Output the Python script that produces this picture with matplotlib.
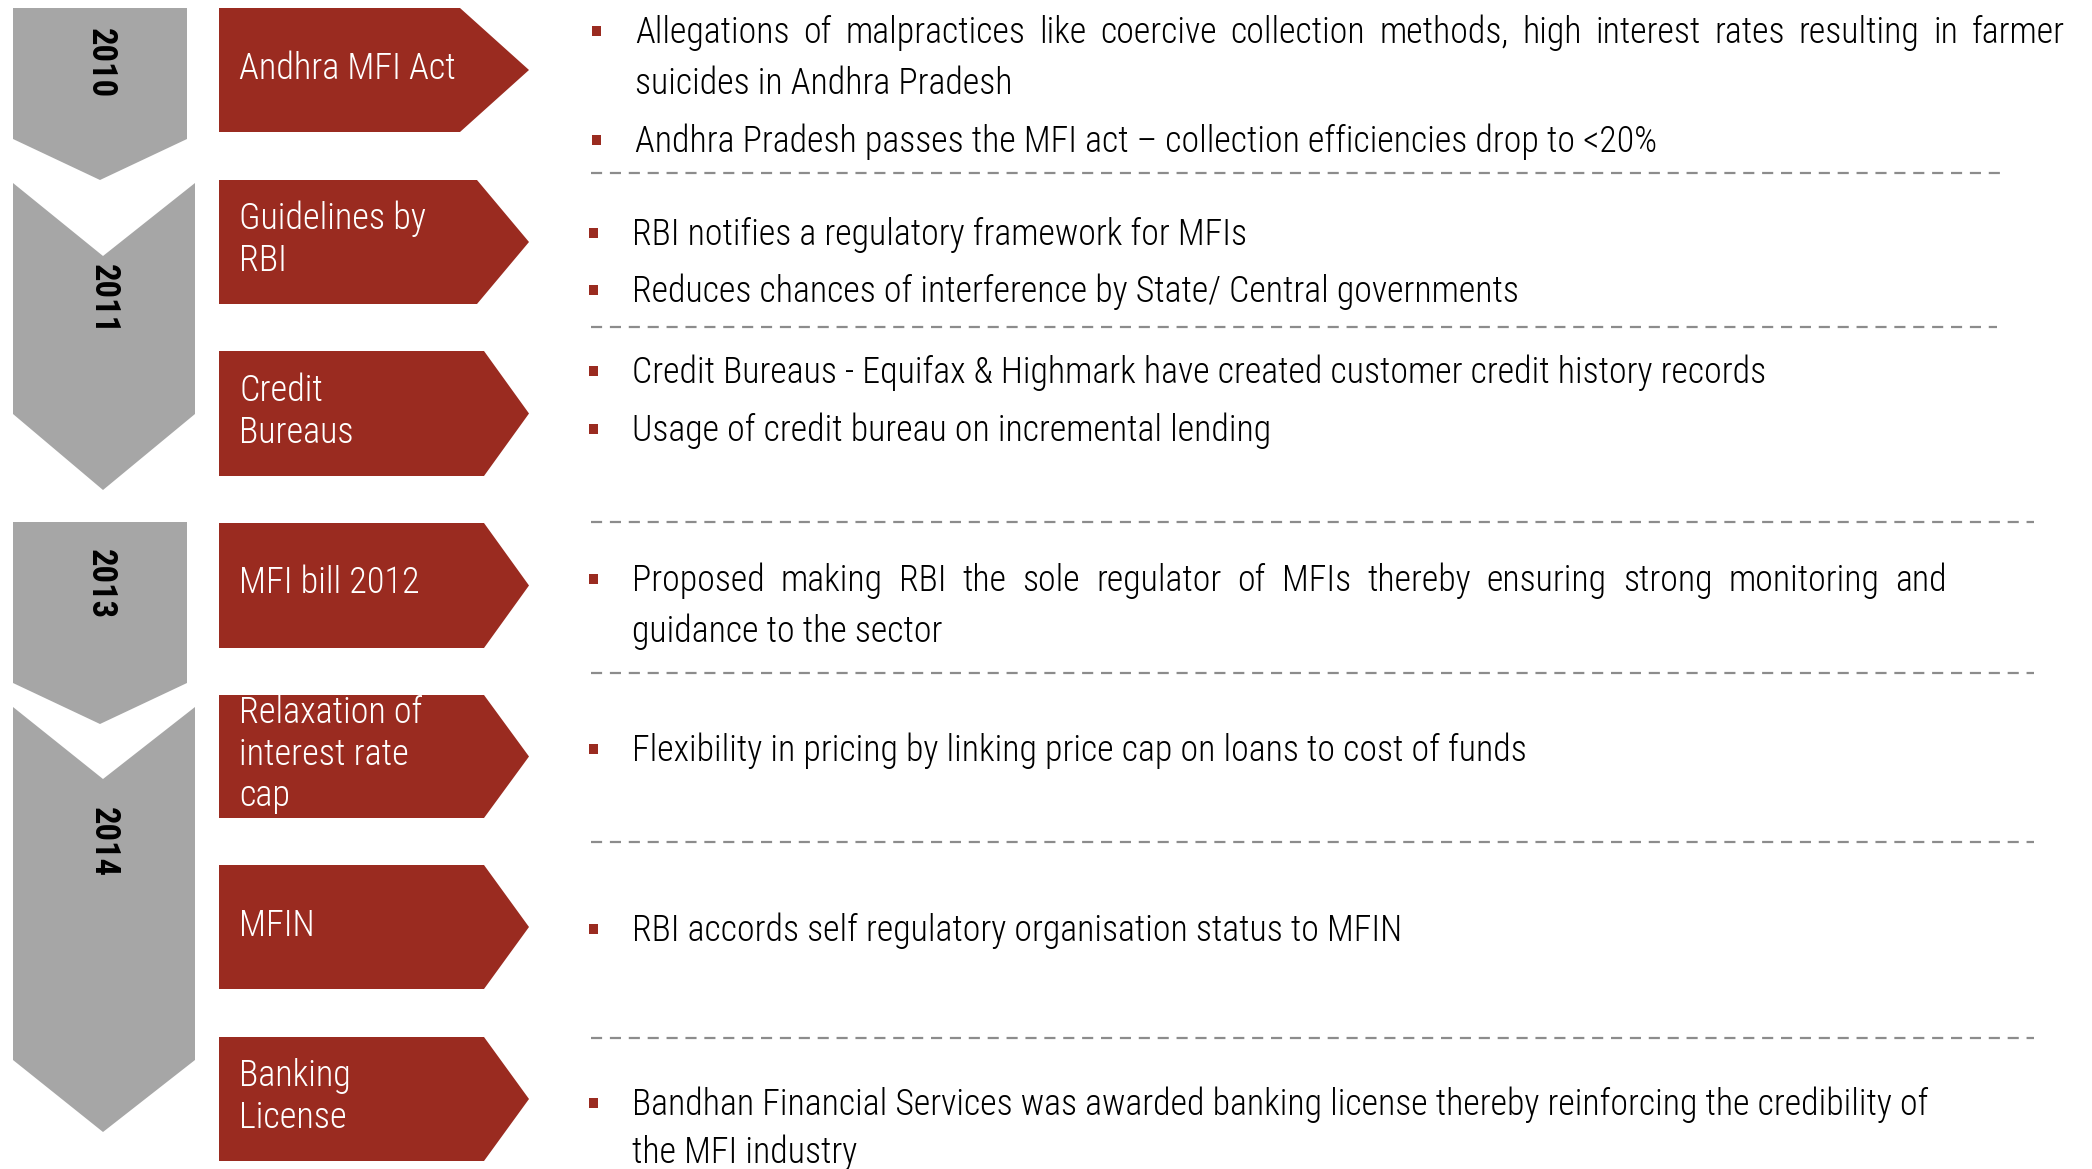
import matplotlib
matplotlib.use("Agg")
import matplotlib.pyplot as plt
from matplotlib.patches import Polygon
from matplotlib import font_manager

# ---------------- data ----------------
years = ["2010", "2011", "2013", "2014"]
events = ["Andhra MFI Act", "Guidelines by\nRBI", "Credit\nBureaus", "MFI bill 2012",
          "Relaxation of\ninterest rate\ncap", "MFIN", "Banking\nLicense"]
section1 = ["Allegations of malpractices like coercive collection methods, high interest rates resulting in farmer",
            "suicides in Andhra Pradesh",
            "Andhra Pradesh passes the MFI act \u2013 collection efficiencies drop to <20%"]
section2 = ["RBI notifies a regulatory framework for MFIs",
            "Reduces chances of interference by State/ Central governments"]
section3 = ["Credit Bureaus - Equifax & Highmark have created customer credit history records",
            "Usage of credit bureau on incremental lending"]
section4 = ["Proposed making RBI the sole regulator of MFIs thereby ensuring strong monitoring and",
            "guidance to the sector"]
section5 = ["Flexibility in pricing by linking price cap on loans to cost of funds"]
section6 = ["RBI accords self regulatory organisation status to MFIN"]
section7 = ["Bandhan Financial Services was awarded banking license thereby reinforcing the credibility of",
            "the MFI industry"]

# ---------------- style / layout ----------------
W, H = 2092, 1169
RED = "#9A2B20"
GRAY = "#A6A6A6"
DASH = "#8C8C8C"


def pick_font(cands):
    for c in cands:
        try:
            font_manager.findfont(font_manager.FontProperties(family=c), fallback_to_default=False)
            return c
        except Exception:
            continue
    return "DejaVu Sans"


FONT = pick_font(["Liberation Sans Narrow", "Roboto Condensed", "Open Sans Condensed", "Liberation Sans"])
TW = 300  # light text weight

fig = plt.figure(figsize=(W / 100, H / 100), dpi=100)
ax = fig.add_axes([0, 0, 1, 1])
ax.set_xlim(0, W)
ax.set_ylim(H, 0)
ax.axis("off")
renderer = fig.canvas.get_renderer()


def width_of(s, size, weight=TW):
    t = ax.text(0, 0, s, fontsize=size, family=FONT, weight=weight)
    w = t.get_window_extent(renderer).width
    t.remove()
    return w


# fit font sizes to the reference text widths
BODY = 20 * 1020 / width_of(section1[2], 20)
LABEL = 20 * 217 / width_of("Andhra MFI Act", 20)
YEAR = 20 * 70 / width_of("2010", 20, "bold")

# gray year chevrons
chevrons = [
    ("flat", 13, 187, 8, 139, 180, 100),
    ("notch", 13, 195, 183, 414, 490, 103, 256),
    ("flat", 13, 187, 522, 683, 724, 100),
    ("notch", 13, 195, 707, 1060, 1132, 103, 779),
]
year_y = [63, 299, 584, 842]
for ch, yr, yy in zip(chevrons, years, year_y):
    if ch[0] == "flat":
        _, x0, x1, top, rb, pt, xc = ch
        pts = [(x0, top), (x1, top), (x1, rb), (xc, pt), (x0, rb)]
    else:
        _, x0, x1, top, rb, pt, xc, notch = ch
        pts = [(x0, top), (xc, notch), (x1, top), (x1, rb), (xc, pt), (x0, rb)]
    ax.add_patch(Polygon(pts, closed=True, facecolor=GRAY, edgecolor="none"))
    ax.text(xc, yy, yr, rotation=-90, ha="center", va="center", fontsize=YEAR,
            family=FONT, weight="bold", color="black")

# red event arrows
boxes = [(8, 132, 460), (180, 304, 477), (351, 476, 484), (523, 648, 484),
         (695, 818, 484), (865, 989, 484), (1037, 1161, 484)]
label_base = [[79], [229, 271], [401, 443], [593], [723, 765, 806], [936], [1086, 1128]]
for (top, bot, rend), lab, bases in zip(boxes, events, label_base):
    mid = (top + bot) / 2
    pts = [(219, top), (rend, top), (529, mid), (rend, bot), (219, bot)]
    ax.add_patch(Polygon(pts, closed=True, facecolor=RED, edgecolor="none"))
    for line, b in zip(lab.split("\n"), bases):
        ax.text(239, b, line, ha="left", va="baseline", fontsize=LABEL, family=FONT,
                weight=TW, color="white")


# right-hand bullet text
def put_line(s, x, base, bullet_x=None, justify_to=None):
    if bullet_x is not None:
        ax.add_patch(Polygon([(bullet_x - 4.5, base - 17), (bullet_x + 4.5, base - 17),
                              (bullet_x + 4.5, base - 7), (bullet_x - 4.5, base - 7)],
                             closed=True, facecolor=RED, edgecolor="none"))
    if justify_to is None:
        ax.text(x, base, s, ha="left", va="baseline", fontsize=BODY, family=FONT,
                weight=TW, color="black")
        return
    words = s.split(" ")
    widths = [width_of(w_, BODY) for w_ in words]
    gap = (justify_to - x - sum(widths)) / (len(words) - 1)
    cx = x
    for w_, wd in zip(words, widths):
        ax.text(cx, base, w_, ha="left", va="baseline", fontsize=BODY, family=FONT,
                weight=TW, color="black")
        cx += wd + gap


sections = [
    (section1, 596, 635, [43, 94, 152], [True, False, True], [2065, None, None]),
    (section2, 593, 632, [245, 302], [True, True], [None, None]),
    (section3, 593, 632, [383, 441], [True, True], [None, None]),
    (section4, 593, 632, [591, 642], [True, False], [1947, None]),
    (section5, 593, 632, [761], [True], [None]),
    (section6, 593, 632, [941], [True], [None]),
    (section7, 593, 632, [1115, 1163], [True, False], [None, None]),
]
for lines, bx, tx, bases, has_b, just in sections:
    for s, b, hb, j in zip(lines, bases, has_b, just):
        put_line(s, tx, b, bx if hb else None, j)

# dashed separators
separators = [(173, 2006), (327, 1997), (522, 2034), (673, 2034), (842, 2034), (1038, 2034)]
for y, xe in separators:
    ax.plot([591, xe], [y, y], color=DASH, lw=1.6, dashes=(5, 3.5), solid_capstyle="butt")

fig.savefig("out.png", dpi=100, facecolor="white")
